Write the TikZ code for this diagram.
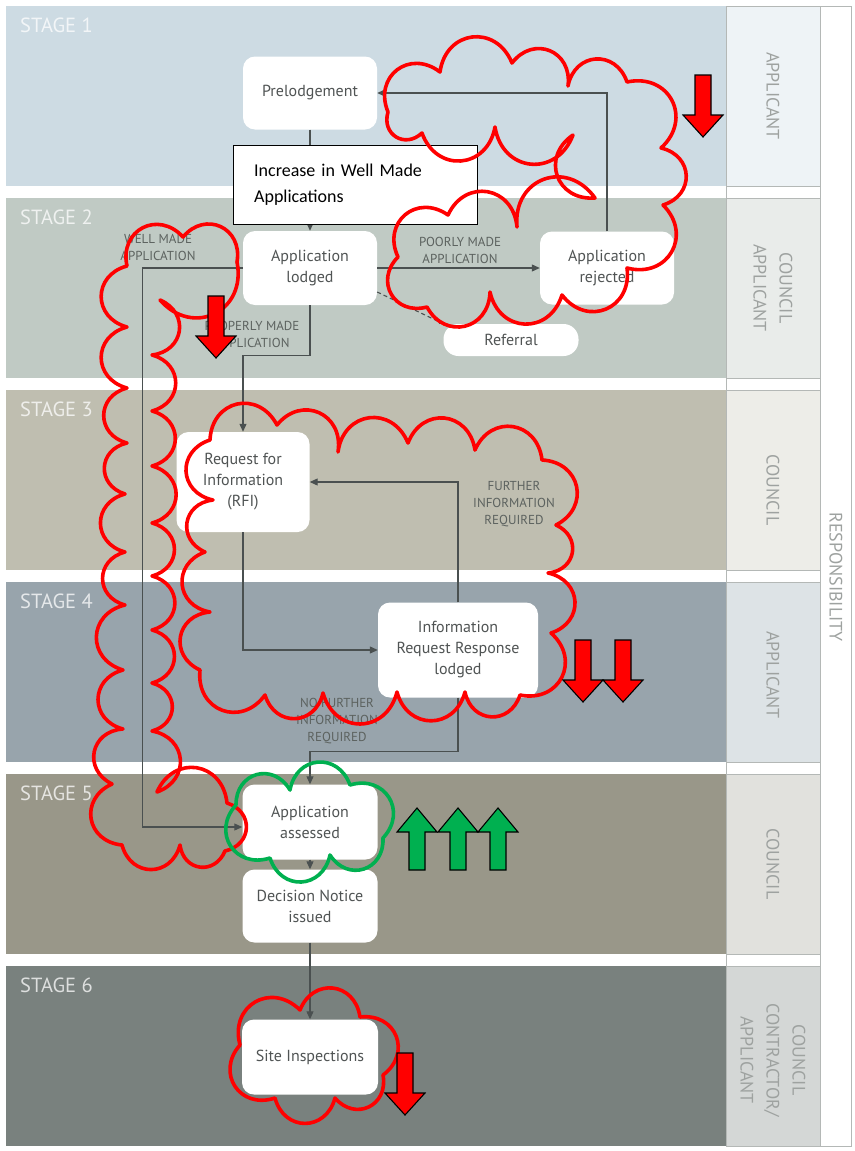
\documentclass[tikz,border=0pt]{standalone}
\usepackage{fontspec}
\setmainfont{PT Sans}
\newfontfamily\calibri{Carlito}
\usetikzlibrary{arrows.meta}

% stage band colours
\definecolor{sA}{HTML}{CDDBE3}
\definecolor{sB}{HTML}{C0CAC4}
\definecolor{sC}{HTML}{BFBEB0}
\definecolor{sD}{HTML}{98A4AC}
\definecolor{sE}{HTML}{999789}
\definecolor{sF}{HTML}{79817E}
% responsibility cell colours
\definecolor{rA}{HTML}{EEF3F6}
\definecolor{rB}{HTML}{E9ECEA}
\definecolor{rC}{HTML}{EDEDE8}
\definecolor{rD}{HTML}{DDE3E6}
\definecolor{rE}{HTML}{E1E1DD}
\definecolor{rF}{HTML}{D4D7D6}
\definecolor{cellline}{HTML}{B4B8B6}
\definecolor{linec}{HTML}{4A5050}
\definecolor{labc}{HTML}{5C625F}
\definecolor{respc}{HTML}{9EA2A0}
\definecolor{boxtext}{HTML}{505454}
\definecolor{markred}{HTML}{FF0000}
\definecolor{markgreen}{HTML}{00B050}

\tikzset{
  downblock/.pic={\draw[fill=markred, line width=1.1pt, line join=miter]
     (-8,0)--(8,0)--(8,40)--(20,40)--(0,62)--(-20,40)--(-8,40)--cycle;},
  upblock/.pic={\draw[fill=markgreen, line width=1.1pt, line join=miter]
     (-8,62)--(8,62)--(8,24)--(20,24)--(0,0)--(-20,24)--(-8,24)--cycle;}
}

\begin{document}
\begin{tikzpicture}[x=1pt, y=-1pt,
  proc/.style={fill=white, rounded corners=12pt, align=center, inner sep=0pt,
               text=boxtext, font=\fontsize{16}{21}\selectfont},
  conn/.style={draw=linec, line width=1.1pt, -{Triangle[length=8pt,width=7pt]}},
  dconn/.style={draw=linec, line width=1.1pt, dash pattern=on 4pt off 3pt,
               -{Triangle[length=4pt,width=4pt]}},
  flowlab/.style={font=\fontsize{13}{17}\selectfont, text=labc, align=center, inner sep=0pt},
  stagelab/.style={font=\fontsize{20.5}{22}\selectfont, text=white, text opacity=0.75,
               anchor=west, inner sep=0pt},
  resplab/.style={rotate=-90, font=\fontsize{18}{26}\selectfont, text=respc,
               align=center, inner sep=0pt},
  cloudred/.style={draw=markred, line width=3.6pt, line cap=round, line join=round},
  cloudgreen/.style={draw=markgreen, line width=3.6pt, line cap=round, line join=round},
  bump/.style={bend left=75, looseness=1.5}
]
\useasboundingbox (0,0) rectangle (854,1151);
\fill[white] (0,0) rectangle (854,1151);

% stage bands
\fill[sA] (6,6) rectangle (726,186);
\fill[sB] (6,198) rectangle (726,378);
\fill[sC] (6,390) rectangle (726,570);
\fill[sD] (6,582) rectangle (726,762);
\fill[sE] (6,774) rectangle (726,954);
\fill[sF] (6,966) rectangle (726,1146);

% responsibility column
\filldraw[fill=rA, draw=cellline] (726,6) rectangle (820,186);
\filldraw[fill=rB, draw=cellline] (726,198) rectangle (820,378);
\filldraw[fill=rC, draw=cellline] (726,390) rectangle (820,570);
\filldraw[fill=rD, draw=cellline] (726,582) rectangle (820,762);
\filldraw[fill=rE, draw=cellline] (726,774) rectangle (820,954);
\filldraw[fill=rF, draw=cellline] (726,966) rectangle (820,1146);
\draw[cellline] (726,6) rectangle (851,1146);
\draw[cellline] (820,6) -- (820,1146);

% stage titles
\node[stagelab] (st1) at (20,25) {STAGE 1};
\node[stagelab] (st2) at (20,217) {STAGE 2};
\node[stagelab] (st3) at (20,409) {STAGE 3};
\node[stagelab] (st4) at (20,601) {STAGE 4};
\node[stagelab] (st5) at (20,793) {STAGE 5};
\node[stagelab] (st6) at (20,985) {STAGE 6};

% responsibility labels
\node[resplab] (r1) at (773,96) {APPLICANT};
\node[resplab] (r2) at (773,288) {COUNCIL\\APPLICANT};
\node[resplab] (r3) at (773,490) {COUNCIL};
\node[resplab] (r4) at (773,675) {APPLICANT};
\node[resplab] (r5) at (773,864) {COUNCIL};
\node[resplab] (r6) at (773,1060) {COUNCIL\\CONTRACTOR/\\APPLICANT};
\node[resplab] (resp) at (836,577) {RESPONSIBILITY};

% process steps
\node[proc, minimum width=134pt, minimum height=73pt] (pre) at (310,93) {Prelodgement};
\node[proc, minimum width=134pt, minimum height=74pt] (lodged) at (310,268) {Application\\lodged};
\node[proc, minimum width=134pt, minimum height=73pt] (rejected) at (607,268) {Application\\rejected};
\node[proc, minimum width=135pt, minimum height=32pt, rounded corners=15pt] (referral) at (511,340) {Referral};
\node[proc, minimum width=133pt, minimum height=100pt] (rfi) at (243,482) {Request for\\Information\\(RFI)};
\node[proc, minimum width=160pt, minimum height=95pt] (irr) at (458,650) {Information\\Request Response\\lodged};
\node[proc, minimum width=135pt, minimum height=75pt] (assessed) at (310,822) {Application\\assessed};
\node[proc, minimum width=135pt, minimum height=73pt] (decision) at (310,906) {Decision Notice\\issued};
\node[proc, minimum width=136pt, minimum height=75pt] (site) at (310,1057) {Site Inspections};

% flow connectors
\draw[conn] (pre) -- (lodged);
\draw[conn] (rejected.north) |- (pre.east);
\draw[conn] (lodged) -- (rejected);
\draw[conn] (lodged.west) -- ++(-100,0) |- ([yshift=-5pt]assessed.west);
\draw[conn] (lodged.south) -- ++(0,50) -| (rfi.north);
\draw[dconn] ([yshift=-24pt]lodged.east) -- (referral.north west);
\draw[conn] (rfi.south) |- (irr.west);
\draw[conn] (irr.north) |- (rfi.east);
\draw[conn] (irr.south) -- ++(0,54) -| (assessed.north);
\draw[conn] (assessed) -- (decision);
\draw[conn] (decision) -- (site);

% connector labels
\node[flowlab] (lwell) at (158,247) {WELL MADE\\APPLICATION};
\node[flowlab] (lpoor) at (460,250) {POORLY MADE\\APPLICATION};
\node[flowlab] (lproper) at (252,334) {PROPERLY MADE\\APPLICATION};
\node[flowlab] (lfurther) at (514,504) {FURTHER\\INFORMATION\\REQUIRED};
\node[flowlab] (lnofurther) at (337,721) {NO FURTHER\\INFORMATION\\REQUIRED};

% goal callout
\node[draw=black, fill=white, line width=1.3pt, anchor=north west, text width=203pt,
      inner xsep=20.5pt, inner ysep=0pt, minimum height=79pt, align=left,
      font=\calibri\fontsize{18}{26}\selectfont] (goal) at (233,145)
      {Increase in Well Made\\Applications};

% red clouds
\draw[cloudred] (388,112) to[bump] (440,72) to[bump] (512,63) to[bump] (568,86)
  to[bump] (627,82) to[bump] (661,148) to[bump] (663,205) to[bump] (627,268)
  to[bump] (562,295) to[bump] (490,292) to[bump] (427,307) to[bump] (398,257)
  to[bump] (448,215) to[bump] (517,227) to[bump] (595,198) to[bump] (573,135)
  to[bump] (495,127) to[bump] (422,133) to[bump] (388,112);

\draw[cloudred] (127,266) to[bump] (183,237) to[bump] (237,262) to[bump] (160,300)
  to[bump] (152,355) to[bump] (152,411) to[bump] (152,466) to[bump] (152,523)
  to[bump] (152,576) to[bump] (152,630) to[bump] (152,683) to[bump] (152,731)
  to[bump] (157,792) to[bump] (227,803) to[bump] (225,851) to[bump] (180,845)
  to[bump] (122,845) to[bump] (112,784) to[bump] (123,729) to[bump] (123,670)
  to[bump] (125,605) to[bump] (125,552) to[bump] (125,494) to[bump] (127,443)
  to[bump] (127,388) to[bump] (127,327) to[bump] (127,266);

\draw[cloudred] (213,500) to[bump] (210,440) to[bump] (277,425) to[bump] (338,452)
  to[bump] (408,443) to[bump] (475,450) to[bump] (542,460) to[bump] (556,525)
  to[bump] (548,573) to[bump] (551,633) to[bump] (520,695) to[bump] (465,692)
  to[bump] (397,692) to[bump] (323,693) to[bump] (265,695) to[bump] (200,670)
  to[bump] (210,612) to[bump] (205,552) to[bump] (213,500);

\draw[cloudred] (240,1045) to[bump] (300,1010) to[bump] (360,1017) to[bump] (383,1075)
  to[bump] (335,1098) to[bump] (275,1098) to[bump] (240,1045);

% green cloud
\draw[cloudgreen] (236,805) to[bump] (290,790) to[bump] (350,785) to[bump] (383,838)
  to[bump] (330,855) to[bump] (270,858) to[bump] (236,805);

% trend arrows
\pic at (703,75) {downblock};
\pic at (216,296) {downblock};
\pic at (583,640) {downblock};
\pic at (623,640) {downblock};
\pic at (405,1053) {downblock};
\pic at (417,808) {upblock};
\pic at (458,808) {upblock};
\pic at (498,808) {upblock};
\end{tikzpicture}
\end{document}
